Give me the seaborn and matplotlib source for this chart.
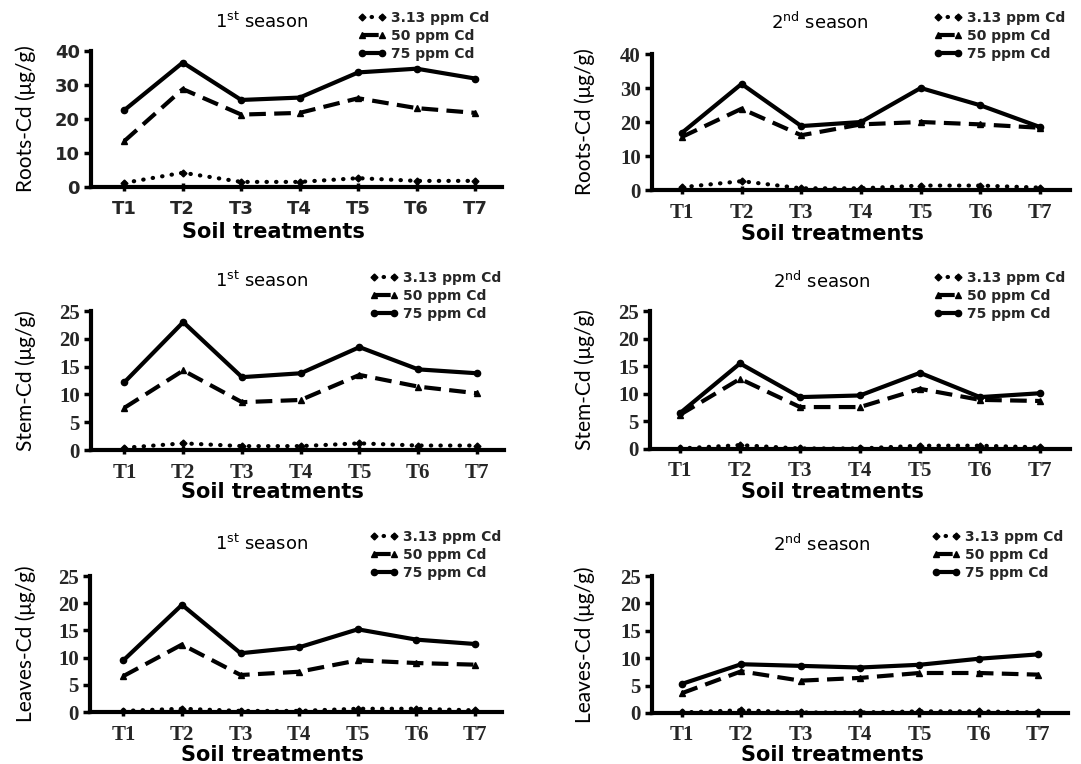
import numpy as np
import pandas as pd
import seaborn as sns
import matplotlib.pyplot as plt

# Treatments and Cd levels
treatments = ['T1', 'T2', 'T3', 'T4', 'T5', 'T6', 'T7']
levels = ['3.13 ppm Cd', '50 ppm Cd', '75 ppm Cd']

# Roots-Cd (ug/g)
roots_s1_313 = [1.2, 4.2, 1.5, 1.5, 2.6, 1.8, 1.8]
roots_s1_50 = [13.5, 28.8, 21.3, 21.8, 26.1, 23.2, 21.8]
roots_s1_75 = [22.6, 36.6, 25.6, 26.3, 33.7, 34.8, 31.9]
roots_s2_313 = [0.8, 2.6, 0.5, 0.5, 1.3, 1.3, 0.7]
roots_s2_50 = [15.6, 23.9, 16.1, 19.3, 20.0, 19.3, 18.3]
roots_s2_75 = [16.8, 31.2, 18.8, 20.0, 30.0, 24.9, 18.5]

# Stem-Cd (ug/g)
stem_s1_313 = [0.4, 1.2, 0.7, 0.7, 1.2, 0.8, 0.8]
stem_s1_50 = [7.6, 14.3, 8.6, 9.0, 13.5, 11.4, 10.2]
stem_s1_75 = [12.2, 23.0, 13.1, 13.8, 18.5, 14.5, 13.8]
stem_s2_313 = [0.1, 0.7, 0.1, 0.1, 0.6, 0.6, 0.3]
stem_s2_50 = [6.2, 12.7, 7.6, 7.6, 10.9, 8.9, 8.7]
stem_s2_75 = [6.5, 15.5, 9.4, 9.7, 13.8, 9.4, 10.1]

# Leaves-Cd (ug/g)
leaves_s1_313 = [0.2, 0.6, 0.2, 0.2, 0.6, 0.6, 0.3]
leaves_s1_50 = [6.6, 12.4, 6.8, 7.4, 9.5, 9.0, 8.7]
leaves_s1_75 = [9.5, 19.7, 10.8, 11.9, 15.2, 13.3, 12.5]
leaves_s2_313 = [0.1, 0.5, 0.1, 0.1, 0.3, 0.3, 0.1]
leaves_s2_50 = [3.6, 7.6, 5.9, 6.4, 7.3, 7.3, 7.0]
leaves_s2_75 = [5.3, 8.9, 8.6, 8.3, 8.8, 9.9, 10.7]

sns.set_style('white')
plt.rcParams['font.family'] = ['DejaVu Sans']
plt.rcParams['mathtext.fontset'] = 'dejavusans'

W, H = 1081, 764
fig = plt.figure(figsize=(W / 100, H / 100), dpi=100)

# line style for each Cd level
styles = {
    '3.13 ppm Cd': dict(linestyle=(0, (0.1, 2.2)), marker='D', markersize=3.5, dash_capstyle='round'),
    '50 ppm Cd': dict(linestyle=(0, (4, 2)), marker='^', markersize=4, dash_capstyle='butt'),
    '75 ppm Cd': dict(linestyle='-', marker='o', markersize=4.5, dash_capstyle='butt'),
}

s1 = '1$^{\\mathrm{st}}$ season'
s2 = '2$^{\\mathrm{nd}}$ season'

# box = (left, right, top, zero) in pixels
panels = [
    dict(box=(91, 502, 51, 187), ylabel='Roots-Cd (μg/g)', title=s1, ymax=40, step=10,
         series=[roots_s1_313, roots_s1_50, roots_s1_75], serif=False,
         title_xy=(262, 22), leg_xy=(358, 11), xlab_xy=(273, 232), ylab_x=26, xlim=(-0.57, 6.46)),
    dict(box=(652, 1070, 54, 190), ylabel='Roots-Cd (μg/g)', title=s2, ymax=40, step=10,
         series=[roots_s2_313, roots_s2_50, roots_s2_75], serif=True,
         title_xy=(820, 22), leg_xy=(934, 11), xlab_xy=(832, 234), ylab_x=585, xlim=(-0.5, 6.5)),
    dict(box=(91, 504, 311, 450), ylabel='Stem-Cd (μg/g)', title=s1, ymax=25, step=5,
         series=[stem_s1_313, stem_s1_50, stem_s1_75], serif=True,
         title_xy=(262, 281), leg_xy=(370, 271), xlab_xy=(272, 492), ylab_x=26, xlim=(-0.57, 6.46)),
    dict(box=(650, 1070, 311, 449), ylabel='Stem-Cd (μg/g)', title=s2, ymax=25, step=5,
         series=[stem_s2_313, stem_s2_50, stem_s2_75], serif=True,
         title_xy=(822, 281), leg_xy=(934, 271), xlab_xy=(832, 492), ylab_x=585, xlim=(-0.5, 6.5)),
    dict(box=(90, 502, 576, 712), ylabel='Leaves-Cd (μg/g)', title=s1, ymax=25, step=5,
         series=[leaves_s1_313, leaves_s1_50, leaves_s1_75], serif=True,
         title_xy=(262, 544), leg_xy=(370, 530), xlab_xy=(272, 755), ylab_x=26, xlim=(-0.57, 6.46)),
    dict(box=(652, 1068, 576, 713), ylabel='Leaves-Cd (μg/g)', title=s2, ymax=25, step=5,
         series=[leaves_s2_313, leaves_s2_50, leaves_s2_75], serif=True,
         title_xy=(822, 544), leg_xy=(932, 530), xlab_xy=(832, 755), ylab_x=585, xlim=(-0.5, 6.5)),
]

for p in panels:
    l, r, t, b = p['box']
    ax = fig.add_axes([l / W, 1 - b / H, (r - l) / W, (b - t) / H])

    for level, vals in zip(levels, p['series']):
        sns.lineplot(x=treatments, y=vals, ax=ax, color='black', label=level,
                     linewidth=3, markeredgecolor='black', markeredgewidth=1,
                     clip_on=False, zorder=4, **styles[level])

    ax.set_xlim(*p['xlim'])
    ax.set_ylim(0, p['ymax'])
    ax.set_yticks(np.arange(0, p['ymax'] + 1, p['step']))
    ax.set_xticks(range(len(treatments)))
    ax.set_xticklabels(treatments)

    for side in ['top', 'right']:
        ax.spines[side].set_visible(False)
    for side in ['left', 'bottom']:
        ax.spines[side].set_linewidth(3)
        ax.spines[side].set_color('black')
        ax.spines[side].set_capstyle('projecting')

    ax.tick_params(axis='y', direction='out', length=5, width=2.5, color='black', pad=3, left=True)
    ax.tick_params(axis='x', direction='inout', length=6, width=2.5, color='black', pad=6, bottom=True)

    if p['serif']:
        tick_font = dict(family='Liberation Serif', weight='bold', size=15)
    else:
        tick_font = dict(family='DejaVu Sans', weight='bold', size=13)
    for lab in ax.get_xticklabels() + ax.get_yticklabels():
        lab.set_fontfamily(tick_font['family'])
        lab.set_fontweight(tick_font['weight'])
        lab.set_fontsize(tick_font['size'])

    # axis labels
    ax.set_ylabel(p['ylabel'], fontfamily='Lato', fontsize=15, color='black')
    ax.yaxis.set_label_coords((p['ylab_x'] - l) / (r - l), 0.5)
    ax.yaxis.label.set_va('center')
    ax.set_xlabel('Soil treatments', fontfamily='DejaVu Sans', fontweight='bold', fontsize=15, color='black')
    ax.xaxis.set_label_coords((p['xlab_xy'][0] - l) / (r - l), (b - p['xlab_xy'][1]) / (b - t))
    ax.xaxis.label.set_va('center')

    # season title
    fig.text(p['title_xy'][0] / W, 1 - p['title_xy'][1] / H, p['title'],
             ha='center', va='center', fontsize=13, color='black')

    ax.legend(loc='upper left', bbox_to_anchor=(p['leg_xy'][0] / W, 1 - p['leg_xy'][1] / H),
              bbox_transform=fig.transFigure, frameon=False,
              prop={'family': 'DejaVu Sans', 'weight': 'bold', 'size': 10},
              handlelength=2.0, handletextpad=0.4, labelspacing=0.3,
              borderpad=0, borderaxespad=0, numpoints=2)

plt.savefig('out.png', dpi=100)
plt.close()
